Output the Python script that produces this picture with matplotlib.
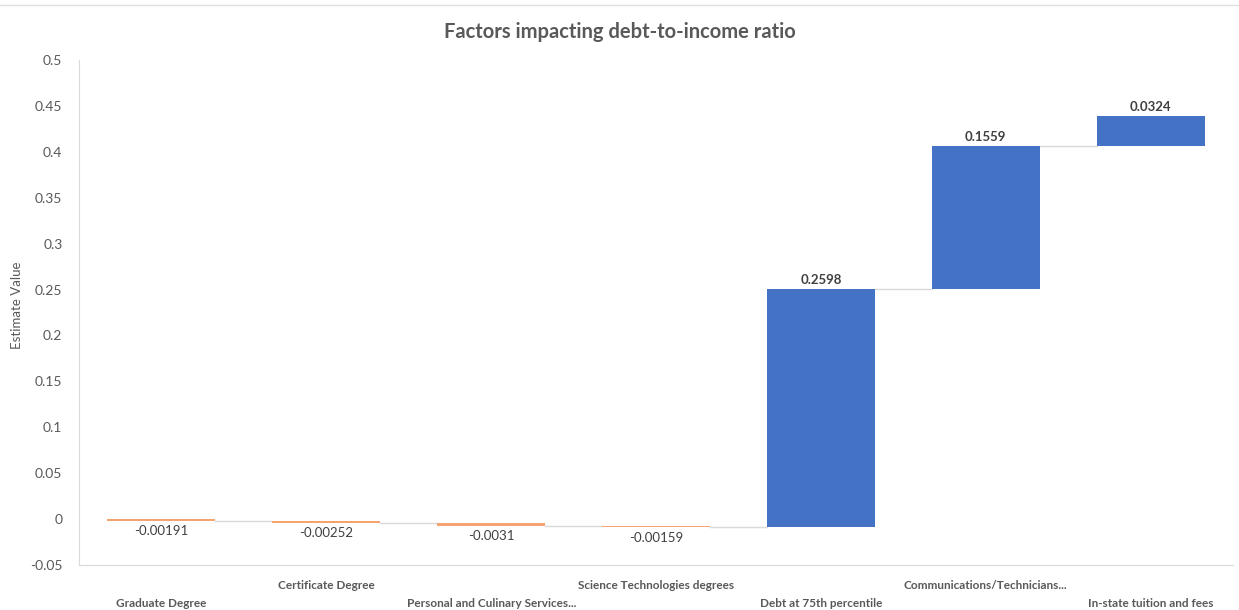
import matplotlib.pyplot as plt

categories = ["Graduate Degree", "Certificate Degree", "Personal and Culinary Services...",
              "Science Technologies degrees", "Debt at 75th percentile",
              "Communications/Technicians...", "In-state tuition and fees"]
changes = [-0.00191, -0.00252, -0.0031, -0.00159, 0.2598, 0.1559, 0.0324]
labels = ["-0.00191", "-0.00252", "-0.0031", "-0.00159", "0.2598", "0.1559", "0.0324"]
yticks = [-0.05, 0, 0.05, 0.1, 0.15, 0.2, 0.25, 0.3, 0.35, 0.4, 0.45, 0.5]
ytick_labels = ["-0.05", "0", "0.05", "0.1", "0.15", "0.2", "0.25", "0.3", "0.35", "0.4", "0.45", "0.5"]

plt.rcParams['font.family'] = ['Lato', 'DejaVu Sans']
grey = '#595959'

fig = plt.figure(figsize=(12.39, 6.10), dpi=100)
ax = fig.add_axes([0.0638, 0.0738, 0.9314, 0.8278])

# running totals for the waterfall
starts = []
ends = []
total = 0
for c in changes:
    starts.append(total)
    total += c
    ends.append(total)

x = list(range(len(categories)))
width = 0.655
for i in x:
    bottom = min(starts[i], ends[i])
    height = abs(changes[i])
    color = '#4472C4' if changes[i] > 0 else '#F4A470'
    ax.bar(i, height, bottom=bottom, width=width, color=color, zorder=3)
    if changes[i] > 0:
        ax.annotate(labels[i], (i, ends[i]), xytext=(0, 2), textcoords='offset points',
                    ha='center', va='bottom', fontsize=9.5, color='#404040', fontweight='bold')
    else:
        ax.annotate(labels[i], (i, ends[i]), xytext=(0, -3), textcoords='offset points',
                    ha='center', va='top', fontsize=9.5, color='#404040')
    # connector to next bar
    if i < len(categories) - 1:
        ax.plot([i + width / 2, i + 1 - width / 2], [ends[i], ends[i]],
                color='#D9D9D9', lw=1, zorder=2)

ax.set_xlim(-0.5, len(categories) - 0.5)
ax.set_ylim(-0.05, 0.5)
ax.set_yticks(yticks)
ax.set_yticklabels(ytick_labels, fontsize=10, color=grey)
ax.set_xticks(x)
ax.set_xticklabels([])
for i in x:
    yoff = -0.0915 if i % 2 == 0 else -0.0725
    ax.text(i, yoff, categories[i], ha='center', va='center', fontsize=8.5,
            color=grey, fontweight='bold')

ax.tick_params(axis='both', length=0)
ax.tick_params(axis='y', pad=12)
for s in ['top', 'right']:
    ax.spines[s].set_visible(False)
ax.spines['left'].set_color('#D9D9D9')
ax.spines['bottom'].set_color('#D9D9D9')

fig.text(17 / 1239, 0.5, 'Estimate Value', rotation=90, ha='center', va='center',
         fontsize=9.5, color=grey)
fig.text(0.5, 0.947, 'Factors impacting debt-to-income ratio', ha='center', va='center',
         fontsize=14.5, fontweight='bold', color=grey)

# faint border line along the top of the screenshot
fig.add_artist(plt.Line2D([0, 1], [0.992, 0.992], color='#E0E0E0', lw=1))

fig.savefig('out.png', dpi=100)
